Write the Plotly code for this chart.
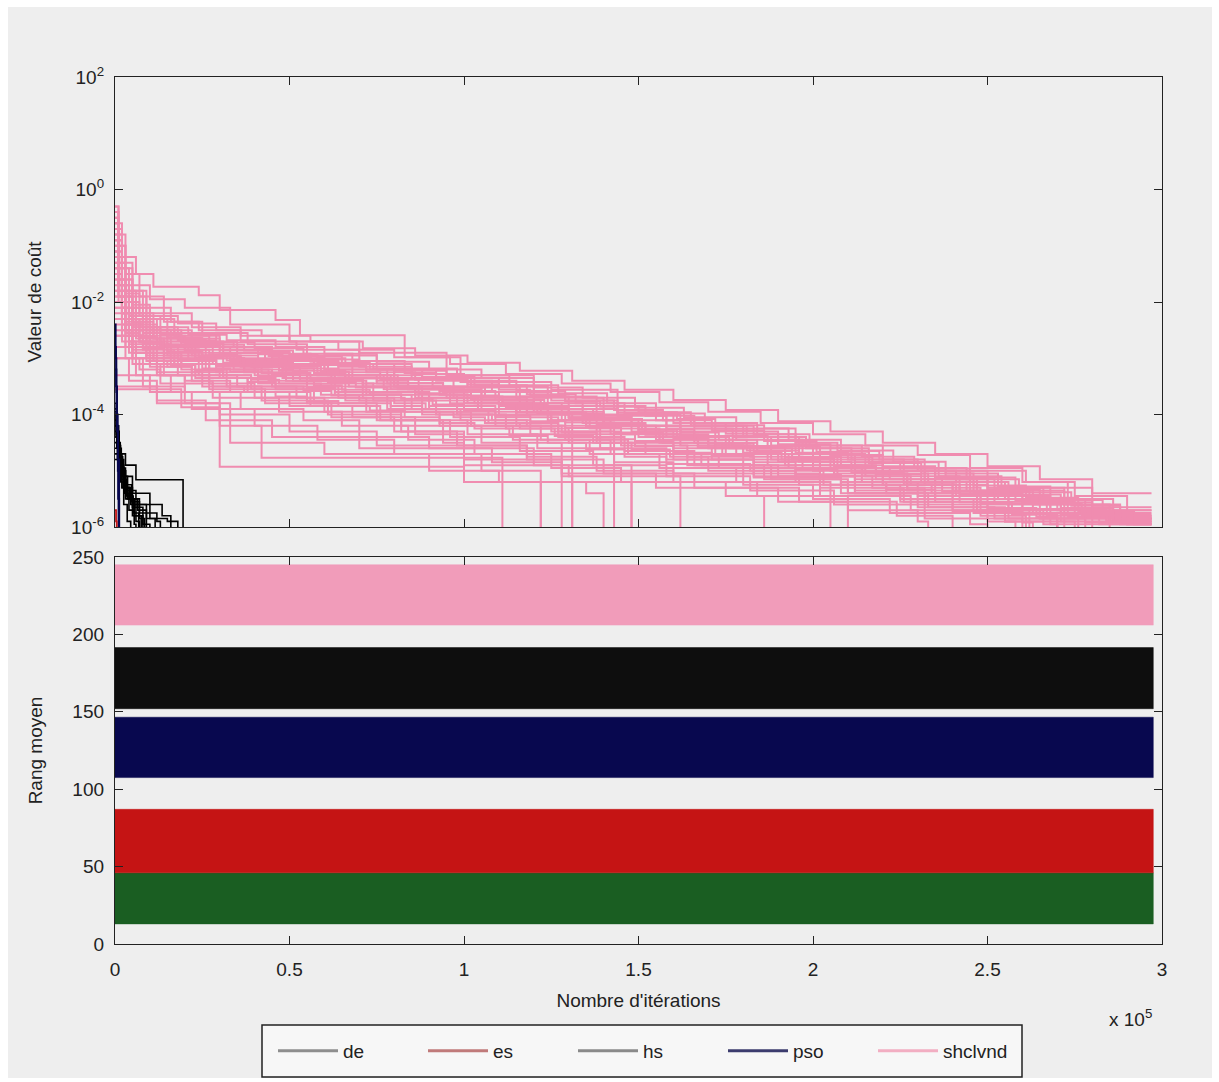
import plotly.graph_objects as go

# ---------------- data ----------------
# x values in units of 1e5 iterations, y values as log10(cost)
SHCLVND_RUNS = [
    [(0,-0.3),(0.01,-0.8),(0.03,-1.2),(0.06,-1.5),(0.11,-1.73),(0.24,-1.88),(0.30,-2.14),(0.46,-2.32),(0.53,-2.59),(0.83,-2.98),(0.99,-3.42),(1.25,-3.56),(1.44,-3.96),(1.65,-4.19),(1.86,-4.25),(1.95,-4.68),(2.10,-4.8),(2.30,-5.0),(2.61,-5.2),(2.73,-5.82),(2.97,-5.82)],
    [(0,-0.6),(0.02,-1.3),(0.05,-1.7),(0.10,-1.95),(0.20,-2.1),(0.33,-2.4),(0.50,-2.7),(0.70,-2.9),(0.95,-3.3),(1.20,-3.7),(1.40,-4.1),(1.62,-4.3),(1.90,-4.55),(2.20,-5.0),(2.50,-5.3),(2.80,-5.9),(2.97,-5.9)],
    [(0,-1.0),(0.03,-1.8),(0.08,-2.3),(0.15,-2.6),(0.30,-2.8),(0.45,-3.0),(0.60,-3.2),(0.80,-3.5),(1.05,-3.8),(1.28,-4.1),(1.50,-4.4),(1.75,-4.7),(2.05,-5.0),(2.35,-5.4),(2.60,-5.7),(2.72,-7)],
    [(0,-1.5),(0.02,-2.2),(0.06,-2.6),(0.12,-2.9),(0.25,-3.1),(0.40,-3.3),(0.62,-3.5),(0.88,-3.75),(1.10,-4.0),(1.31,-7)],
    [(0,-2.0),(0.04,-2.6),(0.09,-3.0),(0.18,-3.3),(0.35,-3.5),(0.55,-3.8),(0.75,-4.1),(0.94,-4.5),(1.00,-5.2),(1.22,-7)],
    [(0,-0.8),(0.02,-1.6),(0.05,-2.1),(0.09,-2.5),(0.16,-2.8),(0.28,-3.1),(0.48,-3.35),(0.66,-3.6),(0.90,-3.9),(1.15,-4.2),(1.38,-4.5),(1.60,-4.8),(1.83,-5.1),(2.12,-5.4),(2.40,-5.7),(2.62,-7)],
    [(0,-2.5),(0.05,-3.0),(0.12,-3.3),(0.20,-3.6),(0.30,-4.93),(0.94,-4.93),(1.00,-5.2),(1.48,-7)],
    [(0,-3.55),(0.19,-3.87),(0.30,-4.2),(0.42,-4.77),(1.11,-7)],
    [(0,-0.4),(0.01,-1.0),(0.03,-1.5),(0.07,-1.9),(0.14,-2.2),(0.22,-2.45),(0.36,-2.7),(0.52,-2.85),(0.70,-3.1),(0.85,-3.35),(1.02,-3.5),(1.20,-3.8),(1.38,-4.0),(1.58,-4.25),(1.78,-4.45),(1.97,-4.7),(2.15,-4.95),(2.35,-5.2),(2.55,-5.5),(2.78,-5.8),(2.97,-5.8)],
    [(0,-1.2),(0.02,-2.0),(0.05,-2.4),(0.10,-2.7),(0.21,-2.95),(0.34,-3.2),(0.51,-3.4),(0.72,-3.65),(0.98,-3.95),(1.25,-4.3),(1.43,-7)],
    [(0,-1.8),(0.03,-2.5),(0.08,-2.85),(0.17,-3.1),(0.27,-3.45),(0.40,-3.7),(0.60,-3.95),(0.82,-4.2),(1.05,-4.5),(1.28,-7)],
    [(0,-0.9),(0.02,-1.7),(0.04,-2.2),(0.08,-2.55),(0.15,-2.75),(0.26,-2.95),(0.41,-3.15),(0.58,-3.3),(0.77,-3.55),(0.96,-3.7),(1.18,-3.95),(1.35,-4.2),(1.55,-4.45),(1.72,-4.6),(1.92,-4.9),(2.18,-5.15),(2.45,-5.45),(2.68,-5.75),(2.90,-5.95),(2.97,-5.95)],
    [(0,-2.2),(0.03,-2.8),(0.10,-3.15),(0.22,-3.4),(0.33,-3.6),(0.50,-3.85),(0.68,-4.05),(0.86,-4.35),(1.00,-4.6),(1.20,-4.9),(1.48,-7)],
    [(0,-1.3),(0.02,-2.1),(0.06,-2.5),(0.13,-2.8),(0.23,-3.0),(0.37,-3.25),(0.55,-3.45),(0.74,-3.75),(0.92,-4.0),(1.12,-4.25),(1.30,-4.5),(1.52,-4.7),(1.73,-4.95),(1.95,-5.2),(2.05,-7)],
    [(0,-0.5),(0.01,-1.2),(0.03,-1.8),(0.06,-2.2),(0.11,-2.5),(0.19,-2.7),(0.31,-2.9),(0.47,-3.05),(0.64,-3.3),(0.80,-3.5),(0.97,-3.7),(1.16,-3.95),(1.34,-4.15),(1.52,-4.35),(1.70,-4.6),(1.88,-4.8),(2.06,-5.05),(2.27,-5.3),(2.48,-5.55),(2.65,-5.85),(2.97,-5.85)],
    [(0,-2.8),(0.06,-3.3),(0.16,-3.6),(0.36,-3.9),(0.54,-4.1),(0.70,-4.4),(0.90,-4.6),(1.08,-4.85),(1.28,-5.1),(1.31,-7)],
    [(0,-1.6),(0.03,-2.3),(0.07,-2.7),(0.15,-2.95),(0.27,-3.2),(0.44,-3.4),(0.63,-3.65),(0.85,-3.9),(1.07,-4.15),(1.27,-4.4),(1.46,-4.65),(1.66,-4.9),(1.88,-5.15),(2.10,-5.4),(2.33,-5.65),(2.55,-5.9),(2.75,-7)],
    [(0,-3.0),(0.04,-3.4),(0.12,-3.75),(0.26,-4.1),(0.45,-4.4),(0.70,-4.6),(1.00,-4.9),(1.30,-5.1),(1.62,-7)],
    [(0,-0.7),(0.02,-1.4),(0.04,-1.9),(0.09,-2.3),(0.17,-2.55),(0.29,-2.8),(0.43,-3.0),(0.60,-3.2),(0.78,-3.45),(0.94,-3.6),(1.10,-3.85),(1.30,-4.05),(1.48,-4.3),(1.66,-4.5),(1.84,-4.7),(2.00,-4.85),(2.20,-5.1),(2.42,-5.35),(2.63,-5.6),(2.85,-5.9),(2.97,-5.9)],
    [(0,-2.0),(0.04,-2.7),(0.11,-3.05),(0.24,-3.3),(0.39,-3.55),(0.57,-3.8),(0.79,-4.1),(1.01,-4.35),(1.21,-4.6),(1.43,-4.85),(1.60,-5.05),(1.80,-5.25),(2.00,-5.5),(2.22,-5.75),(2.45,-5.95),(2.50,-7)],
    [(0,-1.1),(0.02,-1.9),(0.05,-2.35),(0.11,-2.65),(0.20,-2.85),(0.33,-3.05),(0.49,-3.3),(0.67,-3.5),(0.86,-3.7),(1.04,-3.9),(1.24,-4.1),(1.42,-4.35),(1.62,-4.55),(1.80,-4.8),(2.00,-5.0),(2.20,-5.25),(2.40,-5.5),(2.60,-5.75),(2.82,-5.95),(2.97,-5.95)],
    [(0,-2.6),(0.05,-3.1),(0.13,-3.45),(0.28,-3.7),(0.47,-3.95),(0.65,-4.2),(0.84,-4.45),(1.03,-4.7),(1.25,-4.95),(1.45,-5.2),(1.75,-5.45),(1.86,-7)],
    [(0,-1.4),(0.02,-2.2),(0.05,-2.6),(0.10,-2.9),(0.19,-3.1),(0.31,-3.35),(0.46,-3.55),(0.66,-3.75),(0.88,-4.0),(1.09,-4.2),(1.29,-4.45),(1.47,-4.7),(1.68,-4.9),(1.90,-5.1),(2.12,-5.35),(2.32,-5.6),(2.56,-5.85),(2.60,-7)],
    [(0,-0.3),(0.01,-0.9),(0.02,-1.4),(0.05,-1.8),(0.09,-2.1),(0.16,-2.35),(0.25,-2.55),(0.38,-2.75),(0.55,-2.95),(0.75,-3.2),(0.92,-3.4),(1.08,-3.6),(1.25,-3.75),(1.44,-4.0),(1.62,-4.2),(1.80,-4.4),(1.98,-4.6),(2.16,-4.85),(2.36,-5.1),(2.54,-5.35),(2.72,-5.6),(2.88,-5.85),(2.97,-5.85)],
    [(0,-3.3),(0.10,-3.6),(0.22,-3.9),(0.40,-4.2),(0.58,-4.45),(0.80,-4.7),(1.05,-5.0),(1.22,-7)],
    [(0,-1.9),(0.03,-2.6),(0.09,-2.95),(0.19,-3.2),(0.32,-3.5),(0.52,-3.7),(0.72,-3.95),(0.93,-4.2),(1.14,-4.45),(1.36,-4.7),(1.56,-4.95),(1.78,-5.2),(2.02,-5.45),(2.28,-5.7),(2.50,-5.9),(2.97,-5.9)],
    [(0,-0.9),(0.02,-1.6),(0.05,-2.1),(0.10,-2.45),(0.18,-2.65),(0.30,-2.85),(0.45,-3.1),(0.61,-3.3),(0.81,-3.55),(1.00,-3.8),(1.18,-4.0),(1.36,-4.25),(1.56,-4.5),(1.74,-4.7),(1.93,-4.95),(2.14,-5.2),(2.30,-5.45),(2.47,-5.7),(2.66,-5.95),(2.70,-7)],
    [(0,-2.3),(0.04,-2.9),(0.12,-3.25),(0.25,-3.5),(0.42,-3.75),(0.61,-4.0),(0.82,-4.3),(1.00,-4.55),(1.18,-4.8),(1.40,-5.05),(1.66,-5.3),(1.96,-5.55),(2.24,-5.8),(2.40,-7)],
    [(0,-1.7),(0.03,-2.4),(0.08,-2.75),(0.16,-3.0),(0.29,-3.25),(0.45,-3.5),(0.64,-3.7),(0.83,-3.95),(1.02,-4.2),(1.22,-4.45),(1.42,-4.7),(1.64,-4.9),(1.86,-5.15),(2.08,-5.4),(2.30,-5.65),(2.52,-5.85),(2.97,-5.85)],
    [(0,-3.0),(0.08,-3.5),(0.20,-3.8),(0.33,-4.5),(0.60,-4.7),(0.90,-5.0),(1.10,-5.2),(1.35,-5.4),(1.40,-7)],
    [(0,-1.2),(0.02,-1.9),(0.06,-2.4),(0.12,-2.7),(0.22,-2.95),(0.36,-3.15),(0.53,-3.4),(0.71,-3.6),(0.90,-3.85),(1.09,-4.05),(1.27,-4.3),(1.45,-4.55),(1.64,-4.75),(1.83,-5.0),(2.03,-5.25),(2.25,-5.5),(2.46,-5.75),(2.68,-5.95),(2.97,-5.95)],
    [(0,-2.4),(0.05,-3.0),(0.14,-3.3),(0.27,-3.55),(0.43,-3.8),(0.62,-4.05),(0.80,-4.3),(0.98,-4.55),(1.18,-4.75),(1.38,-5.0),(1.60,-5.2),(1.84,-5.45),(2.10,-5.7),(2.30,-5.9),(2.33,-7)],
    [(0,-0.6),(0.01,-1.3),(0.03,-1.85),(0.07,-2.25),(0.13,-2.5),(0.22,-2.7),(0.35,-2.9),(0.50,-3.1),(0.68,-3.35),(0.87,-3.55),(1.05,-3.75),(1.22,-3.95),(1.40,-4.2),(1.58,-4.4),(1.76,-4.6),(1.94,-4.8),(2.12,-5.0),(2.32,-5.25),(2.50,-5.5),(2.70,-5.7),(2.90,-5.95),(2.97,-5.95)],
    [(0,-3.5),(0.12,-3.8),(0.30,-4.0),(0.50,-4.3),(0.75,-4.55),(1.00,-4.8),(1.28,-5.05),(1.55,-5.3),(1.90,-5.55),(2.10,-7)],
    [(0,-1.5),(0.02,-2.3),(0.07,-2.7),(0.14,-3.0),(0.26,-3.2),(0.41,-3.45),(0.59,-3.65),(0.78,-3.9),(0.99,-4.1),(1.19,-4.35),(1.39,-4.6),(1.58,-4.8),(1.80,-5.05),(2.02,-5.3),(2.26,-5.55),(2.48,-5.8),(2.61,-7)],
    [(0,-2.1),(0.04,-2.75),(0.10,-3.1),(0.23,-3.35),(0.38,-3.6),(0.56,-3.85),(0.76,-4.1),(0.96,-4.4),(1.16,-4.65),(1.37,-4.9),(1.58,-5.1),(1.82,-5.35),(2.06,-5.6),(2.32,-5.85),(2.97,-5.85)],
    [(0,-1.3),(0.01,-2.0),(0.04,-2.4),(0.08,-2.55),(0.13,-2.65),(0.19,-2.72),(0.26,-2.8),(0.33,-2.85),(0.41,-2.93),(0.48,-2.98),(0.56,-3.06),(0.64,-3.15),(0.72,-3.2),(0.80,-3.3),(0.88,-3.38),(0.97,-3.5),(1.06,-3.6),(1.15,-3.7),(1.24,-3.8),(1.34,-3.9),(1.44,-4.0),(1.55,-4.1),(1.66,-4.25),(1.77,-4.4),(1.88,-4.55),(2.00,-4.7),(2.12,-4.85),(2.25,-5.0),(2.38,-5.15),(2.52,-5.3),(2.66,-5.5),(2.80,-5.65),(2.97,-5.65)],
    [(0,-0.9),(0.01,-1.7),(0.03,-2.3),(0.06,-2.6),(0.10,-2.8),(0.16,-2.9),(0.23,-3.0),(0.31,-3.08),(0.39,-3.15),(0.47,-3.22),(0.55,-3.3),(0.63,-3.38),(0.71,-3.45),(0.79,-3.55),(0.87,-3.62),(0.95,-3.7),(1.03,-3.8),(1.12,-3.88),(1.21,-3.98),(1.30,-4.08),(1.40,-4.2),(1.50,-4.3),(1.60,-4.42),(1.70,-4.55),(1.80,-4.68),(1.91,-4.8),(2.02,-4.9),(2.14,-5.05),(2.27,-5.2),(2.40,-5.35),(2.53,-5.5),(2.68,-5.7),(2.84,-5.88),(2.97,-5.88)],
    [(0,-1.6),(0.02,-2.5),(0.05,-2.9),(0.09,-3.05),(0.15,-3.15),(0.22,-3.25),(0.30,-3.35),(0.38,-3.42),(0.46,-3.5),(0.54,-3.58),(0.62,-3.66),(0.70,-3.75),(0.79,-3.85),(0.88,-3.95),(0.97,-4.05),(1.06,-4.15),(1.16,-4.25),(1.26,-4.38),(1.37,-4.5),(1.48,-4.62),(1.59,-4.75),(1.70,-4.88),(1.82,-5.0),(1.95,-5.12),(2.08,-5.25),(2.21,-5.4),(2.35,-5.55),(2.50,-5.7),(2.65,-5.85),(2.78,-7)],
    [(0,-0.7),(0.01,-1.5),(0.02,-2.0),(0.05,-2.45),(0.09,-2.65),(0.14,-2.78),(0.20,-2.85),(0.27,-2.93),(0.35,-3.0),(0.43,-3.08),(0.51,-3.14),(0.59,-3.24),(0.67,-3.3),(0.75,-3.4),(0.84,-3.5),(0.93,-3.58),(1.02,-3.68),(1.11,-3.78),(1.20,-3.88),(1.30,-3.98),(1.40,-4.1),(1.51,-4.2),(1.62,-4.32),(1.73,-4.45),(1.84,-4.6),(1.96,-4.75),(2.08,-4.9),(2.20,-5.05),(2.33,-5.2),(2.46,-5.38),(2.60,-5.55),(2.75,-5.75),(2.97,-5.75)],
    [(0,-2.0),(0.02,-2.7),(0.06,-2.9),(0.11,-3.0),(0.17,-3.1),(0.25,-3.18),(0.33,-3.24),(0.41,-3.32),(0.49,-3.4),(0.57,-3.48),(0.65,-3.56),(0.73,-3.64),(0.82,-3.72),(0.91,-3.82),(1.00,-3.92),(1.09,-4.02),(1.19,-4.12),(1.29,-4.24),(1.39,-4.35),(1.49,-4.47),(1.60,-4.6),(1.71,-4.72),(1.83,-4.85),(1.95,-4.98),(2.07,-5.1),(2.20,-5.25),(2.34,-5.4),(2.48,-5.58),(2.63,-5.76),(2.78,-5.92),(2.97,-5.92)],
    [(0,-2.6),(0.03,-3.0),(0.07,-3.2),(0.13,-3.3),(0.20,-3.4),(0.28,-3.5),(0.37,-3.6),(0.46,-3.68),(0.55,-3.76),(0.64,-3.85),(0.73,-3.93),(0.83,-4.05),(0.93,-4.15),(1.03,-4.25),(1.13,-4.38),(1.24,-4.5),(1.35,-4.62),(1.46,-4.75),(1.58,-4.88),(1.70,-5.0),(1.83,-5.12),(1.96,-5.25),(2.10,-5.4),(2.25,-5.55),(2.40,-5.72),(2.55,-5.9),(2.58,-7)],
    [(0,-1.1),(0.01,-1.9),(0.03,-2.35),(0.07,-2.62),(0.12,-2.76),(0.18,-2.88),(0.25,-2.96),(0.32,-3.04),(0.40,-3.1),(0.48,-3.18),(0.57,-3.26),(0.66,-3.35),(0.75,-3.45),(0.84,-3.55),(0.93,-3.65),(1.02,-3.74),(1.11,-3.84),(1.20,-3.95),(1.30,-4.05),(1.40,-4.16),(1.50,-4.27),(1.61,-4.39),(1.72,-4.52),(1.83,-4.65),(1.94,-4.78),(2.06,-4.92),(2.18,-5.06),(2.31,-5.2),(2.44,-5.36),(2.58,-5.52),(2.72,-5.7),(2.86,-5.86),(2.97,-5.86)],
    [(0,-1.9),(0.02,-2.6),(0.05,-2.85),(0.10,-3.0),(0.16,-3.12),(0.23,-3.22),(0.31,-3.3),(0.39,-3.38),(0.47,-3.45),(0.55,-3.53),(0.63,-3.6),(0.71,-3.7),(0.80,-3.8),(0.89,-3.9),(0.98,-4.0),(1.08,-4.1),(1.18,-4.2),(1.28,-4.32),(1.38,-4.44),(1.49,-4.56),(1.60,-4.68),(1.71,-4.8),(1.83,-4.94),(1.95,-5.06),(2.08,-5.2),(2.21,-5.34),(2.35,-5.5),(2.50,-5.66),(2.64,-5.82),(2.70,-7)],
    [(0,-0.5),(0.01,-1.2),(0.02,-1.8),(0.04,-2.2),(0.08,-2.45),(0.13,-2.58),(0.19,-2.66),(0.26,-2.72),(0.34,-2.8),(0.42,-2.88),(0.50,-2.94),(0.58,-3.0),(0.66,-3.1),(0.74,-3.18),(0.83,-3.26),(0.92,-3.35),(1.01,-3.46),(1.10,-3.56),(1.19,-3.66),(1.29,-3.76),(1.39,-3.86),(1.50,-3.96),(1.61,-4.08),(1.72,-4.2),(1.83,-4.35),(1.95,-4.5),(2.07,-4.65),(2.19,-4.8),(2.32,-4.96),(2.45,-5.12),(2.58,-5.3),(2.72,-5.5),(2.86,-5.7),(2.97,-5.7)],
    [(0,-1.4),(0.02,-2.2),(0.04,-2.6),(0.08,-2.82),(0.14,-2.95),(0.21,-3.05),(0.29,-3.12),(0.37,-3.2),(0.45,-3.28),(0.53,-3.36),(0.61,-3.42),(0.69,-3.52),(0.78,-3.6),(0.87,-3.7),(0.96,-3.8),(1.05,-3.9),(1.15,-4.0),(1.25,-4.1),(1.35,-4.22),(1.45,-4.33),(1.56,-4.45),(1.67,-4.58),(1.78,-4.7),(1.90,-4.84),(2.02,-4.96),(2.15,-5.1),(2.28,-5.25),(2.42,-5.42),(2.56,-5.6),(2.71,-5.78),(2.88,-5.95),(2.97,-5.95)],
    [(0,-0.8),(0.01,-1.6),(0.03,-2.0),(0.07,-2.2),(0.14,-2.35),(0.24,-2.5),(0.36,-2.6),(0.50,-2.7),(0.64,-2.85),(0.80,-2.98),(0.96,-3.1),(1.12,-3.28),(1.28,-3.45),(1.42,-3.6),(1.56,-3.78),(1.70,-3.95),(1.85,-4.15),(2.00,-4.35),(2.15,-4.55),(2.30,-4.72),(2.45,-4.95),(2.60,-5.2),(2.75,-5.45),(2.90,-5.7),(2.97,-5.7)],
    [(0,-1.0),(0.01,-1.8),(0.04,-2.25),(0.09,-2.45),(0.17,-2.6),(0.27,-2.72),(0.40,-2.82),(0.54,-2.92),(0.68,-3.05),(0.83,-3.18),(0.98,-3.3),(1.13,-3.48),(1.27,-3.62),(1.41,-3.8),(1.55,-3.98),(1.69,-4.15),(1.84,-4.35),(1.99,-4.55),(2.14,-4.75),(2.29,-4.95),(2.44,-5.15),(2.59,-5.38),(2.74,-5.62),(2.88,-5.85),(2.97,-5.85)],
    [(0,-1.5),(0.02,-2.2),(0.05,-2.5),(0.11,-2.65),(0.19,-2.78),(0.30,-2.9),(0.43,-3.02),(0.57,-3.12),(0.72,-3.25),(0.86,-3.38),(1.01,-3.52),(1.16,-3.68),(1.30,-3.85),(1.44,-4.02),(1.58,-4.2),(1.72,-4.38),(1.87,-4.57),(2.02,-4.76),(2.17,-4.95),(2.32,-5.15),(2.47,-5.36),(2.62,-5.58),(2.77,-5.8),(2.85,-7)],
    [(0,-2.0),(0.03,-2.5),(0.08,-2.75),(0.15,-2.88),(0.25,-3.0),(0.37,-3.12),(0.51,-3.22),(0.66,-3.36),(0.81,-3.5),(0.96,-3.66),(1.10,-3.82),(1.24,-4.0),(1.38,-4.18),(1.52,-4.36),(1.67,-4.55),(1.82,-4.75),(1.97,-4.95),(2.12,-5.15),(2.27,-5.35),(2.42,-5.56),(2.57,-5.78),(2.70,-7)],
    [(0,-0.6),(0.01,-1.4),(0.03,-2.0),(0.06,-2.3),(0.12,-2.45),(0.21,-2.58),(0.32,-2.68),(0.46,-2.8),(0.60,-2.92),(0.75,-3.06),(0.90,-3.2),(1.05,-3.35),(1.20,-3.52),(1.34,-3.7),(1.49,-3.88),(1.63,-4.05),(1.78,-4.25),(1.93,-4.45),(2.08,-4.64),(2.23,-4.84),(2.38,-5.05),(2.53,-5.28),(2.68,-5.52),(2.83,-5.78),(2.97,-5.78)],
    [(0,-1.2),(0.02,-2.0),(0.05,-2.35),(0.10,-2.55),(0.18,-2.68),(0.29,-2.8),(0.42,-2.92),(0.56,-3.02),(0.70,-3.15),(0.85,-3.28),(1.00,-3.4),(1.15,-3.58),(1.29,-3.75),(1.43,-3.92),(1.57,-4.1),(1.71,-4.28),(1.86,-4.47),(2.01,-4.66),(2.16,-4.86),(2.31,-5.05),(2.46,-5.26),(2.61,-5.48),(2.76,-5.72),(2.92,-5.95),(2.97,-5.95)],
    [(0,-1.8),(0.02,-2.4),(0.06,-2.65),(0.13,-2.78),(0.22,-2.9),(0.33,-3.02),(0.47,-3.12),(0.61,-3.25),(0.76,-3.38),(0.91,-3.52),(1.06,-3.68),(1.20,-3.85),(1.34,-4.02),(1.48,-4.2),(1.62,-4.38),(1.77,-4.56),(1.92,-4.76),(2.07,-4.95),(2.22,-5.15),(2.37,-5.36),(2.52,-5.58),(2.67,-5.8),(2.76,-7)],
    [(0,-0.4),(0.01,-1.1),(0.02,-1.7),(0.05,-2.05),(0.10,-2.25),(0.18,-2.38),(0.29,-2.5),(0.42,-2.6),(0.56,-2.7),(0.71,-2.82),(0.86,-2.95),(1.01,-3.08),(1.16,-3.22),(1.31,-3.4),(1.46,-3.56),(1.60,-3.74),(1.75,-3.92),(1.90,-4.12),(2.05,-4.3),(2.20,-4.5),(2.35,-4.7),(2.50,-4.92),(2.65,-5.15),(2.80,-5.4),(2.97,-5.4)],
    [(0,-2.3),(0.04,-2.7),(0.10,-2.9),(0.18,-3.02),(0.29,-3.15),(0.42,-3.26),(0.56,-3.38),(0.71,-3.5),(0.86,-3.64),(1.01,-3.8),(1.15,-3.96),(1.29,-4.14),(1.43,-4.32),(1.57,-4.5),(1.72,-4.7),(1.87,-4.9),(2.02,-5.1),(2.17,-5.3),(2.32,-5.5),(2.47,-5.72),(2.60,-5.92),(2.63,-7)],
    [(0,-1.1),(0.01,-1.9),(0.04,-2.3),(0.08,-2.5),(0.15,-2.64),(0.25,-2.76),(0.37,-2.86),(0.51,-2.96),(0.65,-3.1),(0.80,-3.22),(0.95,-3.35),(1.10,-3.5),(1.24,-3.68),(1.38,-3.85),(1.52,-4.02),(1.66,-4.2),(1.81,-4.4),(1.96,-4.6),(2.11,-4.8),(2.26,-5.0),(2.41,-5.2),(2.56,-5.42),(2.71,-5.66),(2.86,-5.9),(2.97,-5.9)],
    [(0,-1.4),(0.02,-2.1),(0.05,-2.45),(0.11,-2.6),(0.20,-2.73),(0.31,-2.85),(0.44,-2.96),(0.58,-3.08),(0.73,-3.2),(0.88,-3.33),(1.03,-3.48),(1.18,-3.64),(1.32,-3.8),(1.46,-3.98),(1.60,-4.15),(1.75,-4.34),(1.90,-4.53),(2.05,-4.72),(2.20,-4.92),(2.35,-5.12),(2.50,-5.33),(2.65,-5.56),(2.80,-5.8),(2.97,-5.8)],
    [(0,-2.1),(0.03,-2.55),(0.07,-2.72),(0.14,-2.84),(0.24,-2.96),(0.36,-3.08),(0.50,-3.18),(0.64,-3.3),(0.79,-3.44),(0.94,-3.58),(1.09,-3.74),(1.23,-3.9),(1.37,-4.08),(1.51,-4.26),(1.66,-4.45),(1.81,-4.64),(1.96,-4.84),(2.11,-5.04),(2.26,-5.24),(2.41,-5.45),(2.56,-5.68),(2.71,-5.9),(2.80,-7)],
]

HS_RUNS = [
    [(0,-3.9),(0.005,-4.3),(0.012,-4.7),(0.02,-5.0),(0.03,-5.3),(0.045,-5.6),(0.06,-5.9),(0.07,-7)],
    [(0,-4.0),(0.006,-4.5),(0.015,-4.9),(0.025,-5.2),(0.035,-5.5),(0.05,-5.8),(0.08,-7)],
    [(0,-4.2),(0.01,-4.7),(0.03,-4.9),(0.06,-5.16),(0.195,-7)],
    [(0,-4.3),(0.01,-4.8),(0.025,-5.1),(0.05,-5.4),(0.10,-5.6),(0.135,-5.8),(0.16,-7)],
    [(0,-4.5),(0.008,-4.9),(0.02,-5.3),(0.04,-5.5),(0.07,-5.75),(0.12,-5.9),(0.13,-7)],
    [(0,-3.8),(0.004,-4.2),(0.01,-4.6),(0.018,-5.0),(0.028,-5.4),(0.04,-5.7),(0.055,-5.95),(0.06,-7)],
    [(0,-4.6),(0.01,-5.0),(0.03,-5.35),(0.06,-5.6),(0.09,-5.85),(0.115,-7)],
    [(0,-4.4),(0.007,-4.8),(0.017,-5.15),(0.032,-5.45),(0.05,-5.65),(0.08,-5.95),(0.10,-7)],
    [(0,-4.2),(0.005,-4.6),(0.014,-4.95),(0.026,-5.3),(0.042,-5.5),(0.065,-5.7),(0.09,-7)],
    [(0,-4.7),(0.012,-5.1),(0.03,-5.5),(0.055,-5.8),(0.075,-7)],
    [(0,-4.8),(0.02,-5.3),(0.05,-5.6),(0.10,-5.85),(0.15,-5.9),(0.18,-7)],
    [(0,-4.0),(0.003,-4.4),(0.009,-4.8),(0.016,-5.2),(0.025,-5.6),(0.035,-5.9),(0.045,-7)],
    [(0,-3.95),(0.004,-4.35),(0.011,-4.75),(0.022,-5.1),(0.036,-5.45),(0.052,-5.75),(0.068,-7)],
    [(0,-4.1),(0.006,-4.55),(0.016,-4.95),(0.03,-5.25),(0.048,-5.55),(0.07,-5.85),(0.085,-7)],
]

PSO_RUNS = [
    [(0,-2.4),(0.002,-3.0),(0.004,-3.6),(0.006,-4.2),(0.008,-5.0),(0.01,-7)],
    [(0,-2.8),(0.003,-3.5),(0.006,-4.3),(0.009,-5.5),(0.012,-7)],
    [(0,-3.2),(0.004,-4.0),(0.008,-4.8),(0.012,-7)],
]

ES_RUNS = [
    [(0,-5.7),(0.003,-5.9),(0.005,-7)],
]

# bottom panel: mean-rank bands (low, high) for each algorithm
ALGOS = ["de", "es", "hs", "pso", "shclvnd"]
BAND_LOW = [13, 46, 152, 107.5, 206]
BAND_HIGH = [46, 87, 191.5, 146.5, 245]
BAND_END = 2.975  # x 1e5

BAND_COLORS = ["#1a5e22", "#c51414", "#0e0e0e", "#08084f", "#f19cba"]
LEGEND_COLORS = ["#8e8e8e", "#c07a7a", "#8a8a8a", "#3c3c6e", "#f2aec2"]
LINE_COLORS = {"es": "#c51414", "hs": "#000000", "pso": "#08084f", "shclvnd": "#f08cb0"}

X_TICKS = [0, 0.5, 1, 1.5, 2, 2.5, 3]
Y_TOP_TICKS = [2, 0, -2, -4, -6]
Y_BOT_TICKS = [0, 50, 100, 150, 200, 250]

SCALE = 1e5

# ---------------- figure ----------------
fig = go.Figure()

W, H = 1219, 1082
xdom = [115 / W, 1162 / W]
ytop = [1 - 527 / H, 1 - 77 / H]
ybot = [1 - 944 / H, 1 - 557 / H]


def add_runs(runs, color, width):
    for run in runs:
        xs = [p[0] * SCALE for p in run]
        ys = [10 ** p[1] for p in run]
        fig.add_trace(go.Scatter(
            x=xs, y=ys, mode="lines", line=dict(color=color, width=width, shape="hv"),
            xaxis="x", yaxis="y", showlegend=False, hoverinfo="skip"))


add_runs(SHCLVND_RUNS, LINE_COLORS["shclvnd"], 2.0)
add_runs(HS_RUNS, LINE_COLORS["hs"], 1.6)
add_runs(PSO_RUNS, LINE_COLORS["pso"], 1.8)
add_runs(ES_RUNS, LINE_COLORS["es"], 1.8)

# bands in bottom panel
for name, lo, hi, col in zip(ALGOS, BAND_LOW, BAND_HIGH, BAND_COLORS):
    fig.add_trace(go.Scatter(
        x=[0, BAND_END * SCALE, BAND_END * SCALE, 0, 0],
        y=[lo, lo, hi, hi, lo],
        mode="lines", fill="toself", fillcolor=col,
        line=dict(color=col, width=0.5),
        xaxis="x2", yaxis="y2", showlegend=False, hoverinfo="skip"))

# legend entries
for name, col in zip(ALGOS, LEGEND_COLORS):
    fig.add_trace(go.Scatter(
        x=[None], y=[None], mode="lines", name=name,
        line=dict(color=col, width=3), xaxis="x2", yaxis="y2"))

font_family = "Liberation Sans, Arial, sans-serif"
axis_common = dict(showline=True, linecolor="#222222", linewidth=1.3, mirror="ticks",
                   ticks="inside", ticklen=8, tickcolor="#222222", showgrid=False,
                   zeroline=False, tickfont=dict(size=19, color="#222222", family=font_family))

fig.update_layout(
    width=W, height=H,
    margin=dict(l=0, r=0, t=0, b=0, autoexpand=False),
    paper_bgcolor="#ffffff",
    plot_bgcolor="#f3f3f3",
    font=dict(family=font_family, color="#222222"),
    xaxis=dict(domain=xdom, anchor="y", range=[0, 3 * SCALE],
               tickvals=[v * SCALE for v in X_TICKS], showticklabels=False, **axis_common),
    yaxis=dict(domain=ytop, anchor="x", type="log", range=[-6, 2],
               tickvals=[10 ** v for v in Y_TOP_TICKS],
               ticktext=["10<sup>%d</sup>" % v for v in Y_TOP_TICKS],
               ticklabelstandoff=6,
               title=dict(text="Valeur de coût", font=dict(size=19), standoff=24),
               **axis_common),
    xaxis2=dict(domain=xdom, anchor="y2", range=[0, 3 * SCALE],
                tickvals=[v * SCALE for v in X_TICKS],
                ticktext=["%g" % v for v in X_TICKS],
                ticklabelstandoff=8,
                title=dict(text="Nombre d'itérations", font=dict(size=19), standoff=14),
                **axis_common),
    yaxis2=dict(domain=ybot, anchor="x2", range=[0, 250],
                tickvals=Y_BOT_TICKS,
                ticklabelstandoff=6,
                title=dict(text="Rang moyen", font=dict(size=19), standoff=24),
                **axis_common),
    legend=dict(orientation="h", x=648 / W, xanchor="center", y=1 - 1051 / H, yanchor="middle",
                bgcolor="rgba(0,0,0,0)", borderwidth=0,
                font=dict(size=19, color="#222222"),
                entrywidth=75, entrywidthmode="pixels", itemwidth=60),
    shapes=[
        dict(type="rect", xref="paper", yref="paper", x0=8 / W, x1=1212 / W,
             y0=1 - 1078 / H, y1=1 - 7 / H, fillcolor="#eeeeee", line=dict(width=0),
             layer="below"),
        dict(type="rect", xref="paper", yref="paper", x0=262 / W, x1=1022 / W,
             y0=1 - 1077 / H, y1=1 - 1025 / H, fillcolor="#f7f7f7",
             line=dict(color="#222222", width=1.5), layer="below"),
    ],
    annotations=[dict(text="x 10<sup>5</sup>", xref="paper", yref="paper",
                      x=1130 / W, y=1 - 1018 / H, xanchor="center", yanchor="middle",
                      showarrow=False, font=dict(size=19, color="#222222"))],
)

fig.write_html("out.html")
